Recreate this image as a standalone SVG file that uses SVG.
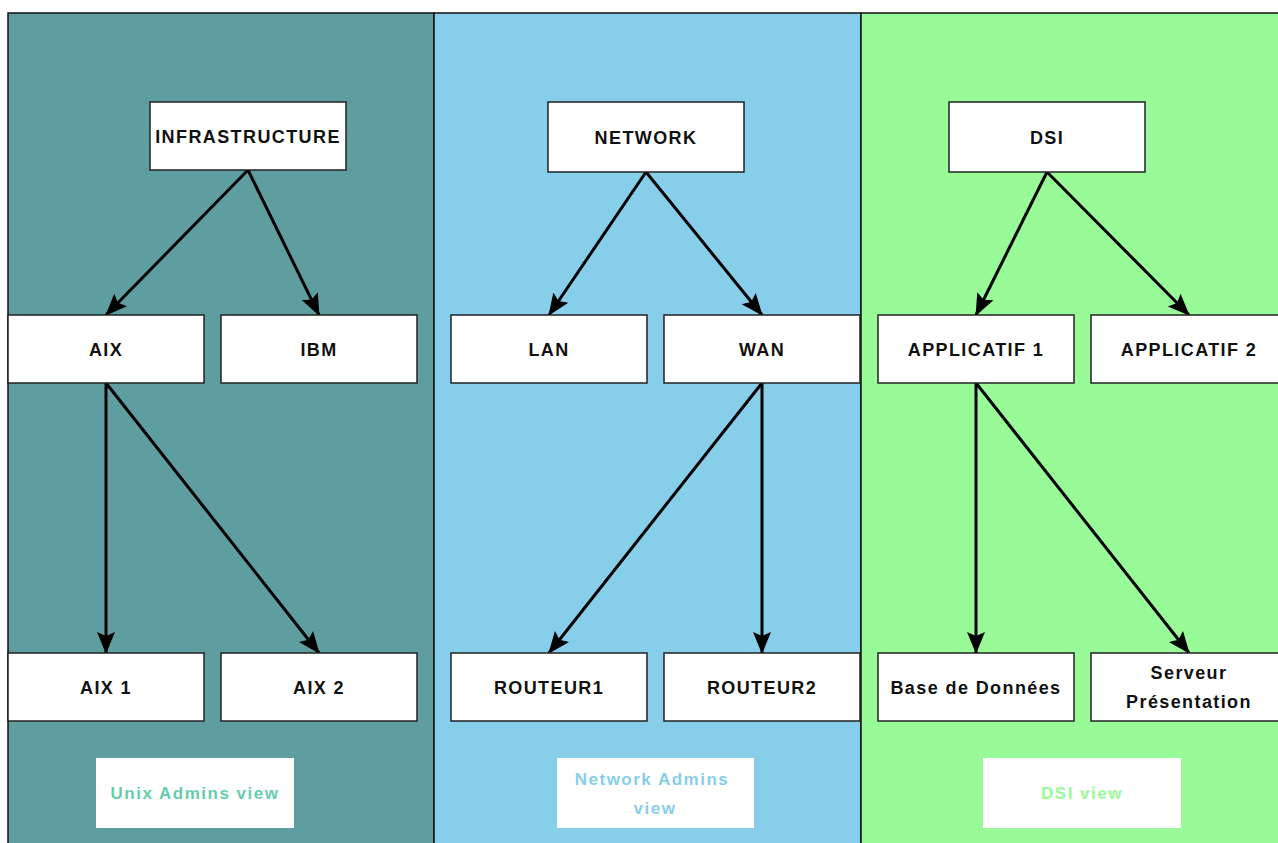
<svg xmlns="http://www.w3.org/2000/svg" width="1278" height="843" viewBox="0 0 1278 843">
<style>
.node rect{fill:#fff;stroke:#222;stroke-width:1.5}
.node text{font-family:"Liberation Sans",Arial,sans-serif;font-weight:bold;font-size:18px;letter-spacing:1.4px;fill:#111;text-anchor:middle}
.lbl rect{fill:#fff;stroke:none}
.lbl text{font-family:"Liberation Sans",Arial,sans-serif;font-weight:bold;font-size:17px;letter-spacing:1.5px;text-anchor:middle}
.conn line{stroke:#000;stroke-width:3;marker-end:url(#ah)}
.panel{stroke:#111;stroke-width:1.5}
</style>
<defs>
<marker id="ah" markerUnits="userSpaceOnUse" markerWidth="22" markerHeight="20" viewBox="0 0 22 20" refX="21" refY="10" orient="auto">
<path d="M0,1 L22,10 L0,19 L4,10 z" fill="#000"/>
</marker>
</defs>
<rect width="1278" height="843" fill="#fff"/>
<g id="panels">
<rect class="panel" x="8" y="13" width="426" height="840" fill="#5F9EA0"/>
<rect class="panel" x="434" y="13" width="427" height="840" fill="#87CEEB"/>
<rect class="panel" x="861" y="13" width="430" height="840" fill="#98FB98"/>
</g>
<g class="conn" id="connectors">
<line x1="248" y1="170" x2="106" y2="315"/>
<line x1="248" y1="170" x2="319" y2="315"/>
<line x1="106" y1="383" x2="106" y2="653"/>
<line x1="106" y1="383" x2="319" y2="653"/>
<line x1="646" y1="172" x2="549" y2="315"/>
<line x1="646" y1="172" x2="762" y2="315"/>
<line x1="762" y1="383" x2="549" y2="653"/>
<line x1="762" y1="383" x2="762" y2="653"/>
<line x1="1047" y1="172" x2="976" y2="315"/>
<line x1="1047" y1="172" x2="1189" y2="315"/>
<line x1="976" y1="383" x2="976" y2="653"/>
<line x1="976" y1="383" x2="1189" y2="653"/>
</g>
<g class="node" id="infrastructure"><rect x="150" y="102" width="196" height="68"/><text x="248" y="142.5">INFRASTRUCTURE</text></g>
<g class="node" id="aix"><rect x="8" y="315" width="196" height="68"/><text x="106" y="355.5">AIX</text></g>
<g class="node" id="ibm"><rect x="221" y="315" width="196" height="68"/><text x="319" y="355.5">IBM</text></g>
<g class="node" id="aix1"><rect x="8" y="653" width="196" height="68"/><text x="106" y="693.5">AIX 1</text></g>
<g class="node" id="aix2"><rect x="221" y="653" width="196" height="68"/><text x="319" y="693.5">AIX 2</text></g>
<g class="node" id="network"><rect x="548" y="102" width="196" height="70"/><text x="646" y="143.5">NETWORK</text></g>
<g class="node" id="lan"><rect x="451" y="315" width="196" height="68"/><text x="549" y="355.5">LAN</text></g>
<g class="node" id="wan"><rect x="664" y="315" width="196" height="68"/><text x="762" y="355.5">WAN</text></g>
<g class="node" id="routeur1"><rect x="451" y="653" width="196" height="68"/><text x="549" y="693.5">ROUTEUR1</text></g>
<g class="node" id="routeur2"><rect x="664" y="653" width="196" height="68"/><text x="762" y="693.5">ROUTEUR2</text></g>
<g class="node" id="dsi"><rect x="949" y="102" width="196" height="70"/><text x="1047" y="143.5">DSI</text></g>
<g class="node" id="applicatif1"><rect x="878" y="315" width="196" height="68"/><text x="976" y="355.5">APPLICATIF 1</text></g>
<g class="node" id="applicatif2"><rect x="1091" y="315" width="196" height="68"/><text x="1189" y="355.5">APPLICATIF 2</text></g>
<g class="node" id="basededonnees"><rect x="878" y="653" width="196" height="68"/><text x="976" y="693.5">Base de Données</text></g>
<g class="node" id="serveur"><rect x="1091" y="653" width="196" height="68"/><text x="1189" y="679">Serveur</text><text x="1189" y="708">Présentation</text></g>
<g class="lbl" id="unixview"><rect x="96" y="758" width="198" height="70"/><text x="195" y="799" fill="#66CDAA">Unix Admins view</text></g>
<g class="lbl" id="networkview"><rect x="557" y="758" width="197" height="70"/><text x="652" y="785" fill="#87CEEB">Network Admins</text><text x="655" y="814" fill="#87CEEB">view</text></g>
<g class="lbl" id="dsiview"><rect x="983" y="758" width="198" height="70"/><text x="1082" y="799" fill="#98FB98">DSI view</text></g>
</svg>
